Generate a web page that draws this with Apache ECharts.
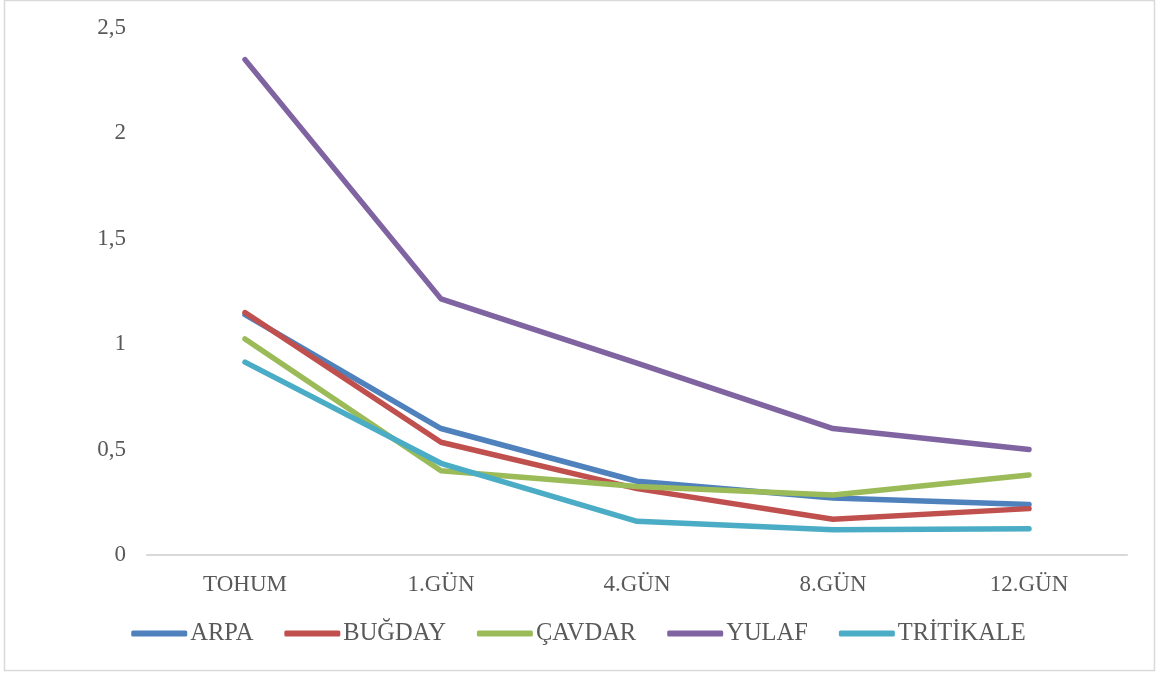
<!DOCTYPE html>
<html>
<head>
<meta charset="utf-8">
<script src="https://cdn.jsdelivr.net/npm/echarts@6/dist/echarts.min.js"></script>
<style>html,body{margin:0;padding:0;background:#fff;}#c{width:1157px;height:675px;}</style>
</head>
<body>
<div id="c"></div>
<script>
const categories = ['TOHUM', '1.GÜN', '4.GÜN', '8.GÜN', '12.GÜN'];
const arpa = [1.14, 0.60, 0.35, 0.27, 0.24];
const bugday = [1.15, 0.535, 0.315, 0.17, 0.22];
const cavdar = [1.025, 0.40, 0.325, 0.285, 0.38];
const yulaf = [2.35, 1.215, 0.91, 0.60, 0.50];
const tritikale = [0.915, 0.435, 0.16, 0.12, 0.125];
const seriesNames = ['ARPA', 'BUĞDAY', 'ÇAVDAR', 'YULAF', 'TRİTİKALE'];
const seriesData = [arpa, bugday, cavdar, yulaf, tritikale];
const colors = ['#4F81BD', '#C0504D', '#9BBB59', '#8064A2', '#4BACC6'];

const chart = echarts.init(document.getElementById('c'), null, {renderer: 'canvas'});
const font = 'Liberation Serif, Times New Roman, serif';
chart.setOption({
  animation: false,
  color: colors,
  textStyle: {fontFamily: font},
  graphic: [{
    type: 'rect', shape: {x: 4.5, y: 0.5, width: 1150, height: 670},
    style: {fill: 'none', stroke: '#d9d9d9', lineWidth: 1.5}, silent: true
  }],
  grid: {left: 147, right: 30, top: 28, bottom: 120},
  legend: {
    data: seriesNames,
    bottom: 24,
    left: 'center',
    icon: 'roundRect',
    itemWidth: 56,
    itemHeight: 6,
    itemGap: 31,
    textStyle: {fontFamily: font, fontSize: 24.5, color: '#595959', padding: [0, 0, 0, -2]}
  },
  xAxis: {
    type: 'category',
    data: categories,
    boundaryGap: true,
    axisLine: {lineStyle: {color: '#d9d9d9', width: 2}},
    axisTick: {show: false},
    axisLabel: {fontFamily: font, fontSize: 23, color: '#595959', margin: 18}
  },
  yAxis: {
    type: 'value',
    min: 0, max: 2.5, interval: 0.5,
    axisLine: {show: false},
    axisTick: {show: false},
    splitLine: {show: false},
    axisLabel: {
      fontFamily: font, fontSize: 23, color: '#595959', margin: 21,
      formatter: v => String(v).replace('.', ',')
    }
  },
  series: seriesNames.map((n, i) => ({
    name: n,
    type: 'line',
    data: seriesData[i],
    symbol: 'none',
    lineStyle: {width: 5.5, color: colors[i], cap: 'round', join: 'round'}
  }))
});
</script>
</body>
</html>
